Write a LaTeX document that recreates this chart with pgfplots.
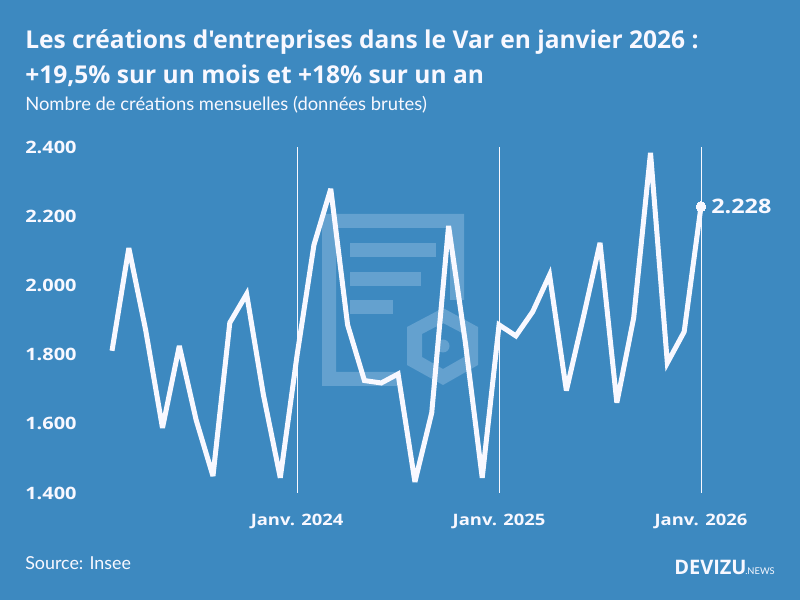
\documentclass[border=0pt]{standalone}
\usepackage{pgfplots}
\pgfplotsset{compat=1.18}
\usepackage{fontspec}
\setmainfont{Lato}
\newfontfamily\hf{Open Sans}
\newfontfamily\hd{Open Sans}[FakeStretch=1.17]
\definecolor{bg}{RGB}{61,137,192}
\definecolor{wm}{RGB}{100,161,207}
\definecolor{ln}{RGB}{248,248,255}
\begin{document}
\begin{tikzpicture}
\fill[bg] (0,0) rectangle (600pt,450pt);
\begin{scope}[yshift=450pt,x=0.75pt,y=-0.75pt]
% watermark
\fill[wm] (322,214) -- (464,214) -- (464,300) -- (450,300) -- (450,228) -- (336,228) -- (336,372) -- (397,372) -- (397,386) -- (322,386) -- cycle;
\fill[wm] (350,243) rectangle (436,257);
\fill[wm] (350,272) rectangle (421,286);
\fill[wm] (350,300) rectangle (393,314);
\fill[wm,even odd rule] (443,308) -- (478,327) -- (478,365) -- (443,385) -- (407,365) -- (407,327) -- cycle
 (443,323) -- (464,334) -- (464,357) -- (443,369) -- (422,357) -- (422,334) -- cycle;
\fill[wm] (443,346) circle (6.5);
% text
\node[anchor=base west,inner sep=0pt,text=ln,font=\hf\fontsize{18.4}{18.4}\selectfont\bfseries] at (25,49) {Les créations d'entreprises dans le Var en janvier 2026 :};
\node[anchor=base west,inner sep=0pt,text=ln,font=\hf\fontsize{18.4}{18.4}\selectfont\bfseries] at (25,84) {+19,5\% sur un mois et +18\% sur un an};
\node[anchor=base west,inner sep=0pt,text=ln,font=\fontsize{13.8}{13.8}\selectfont] at (25,111) {Nombre de créations mensuelles (données brutes)};
\node[anchor=base west,inner sep=0pt,text=ln,font=\fontsize{13.4}{13.4}\selectfont] at (25,569) {Source: Insee};
\node[anchor=base west,inner sep=0pt,text=ln,font=\hf\fontsize{15}{15}\selectfont\bfseries] at (674,574) {DEVIZU};
\node[anchor=base west,inner sep=0pt,text=ln,font=\fontsize{7}{7}\selectfont] at (745,574) {.NEWS};
\end{scope}
\begin{axis}[
  at={(84pt,80.25pt)}, anchor=south west, scale only axis,
  width=441.75pt, height=259.5pt,
  xmin=0, xmax=35, ymin=1400, ymax=2400,
  clip=false,
  axis line style={draw=none},
  major tick length=0pt,
  xtick={11,23,35},
  xticklabels={Janv. 2024,Janv. 2025,Janv. 2026},
  ytick={1400,1600,1800,2000,2200,2400},
  yticklabels={1.400,1.600,1.800,2.000,2.200,2.400},
  xmajorgrids, ymajorgrids=false,
  grid style={ln,line width=0.6pt},
  xticklabel style={text=ln,font=\hd\fontsize{11.8}{11.8}\selectfont\bfseries,yshift=-12pt},
  yticklabel style={text=ln,font=\hd\fontsize{12.8}{12.8}\selectfont\bfseries,xshift=-23pt},
]
\addplot[ln,line width=3.75pt,line join=miter,miter limit=4,line cap=butt] coordinates {
(0,1811)(1,2108)(2,1871)(3,1588)(4,1825)(5,1611)(6,1449)(7,1892)(8,1975)(9,1683)(10,1444)
(11,1799)(12,2117)(13,2279)(14,1886)(15,1725)(16,1718)(17,1744)(18,1432)(19,1632)(20,2172)
(21,1834)(22,1444)(23,1886)(24,1854)(25,1924)(26,2030)(27,1696)(28,1906)(29,2123)(30,1661)
(31,1906)(32,2383)(33,1776)(34,1866)(35,2228)};
\addplot[only marks,ln,mark=*,mark size=3.6pt,mark options={fill=ln,draw=ln,line width=0pt}] coordinates {(35,2228)};
\node[anchor=west,text=ln,inner sep=0pt,font=\hd\fontsize{15}{15}\selectfont\bfseries] at (axis cs:35,2228) [xshift=7.5pt] {2.228};
\end{axis}
\end{tikzpicture}
\end{document}
